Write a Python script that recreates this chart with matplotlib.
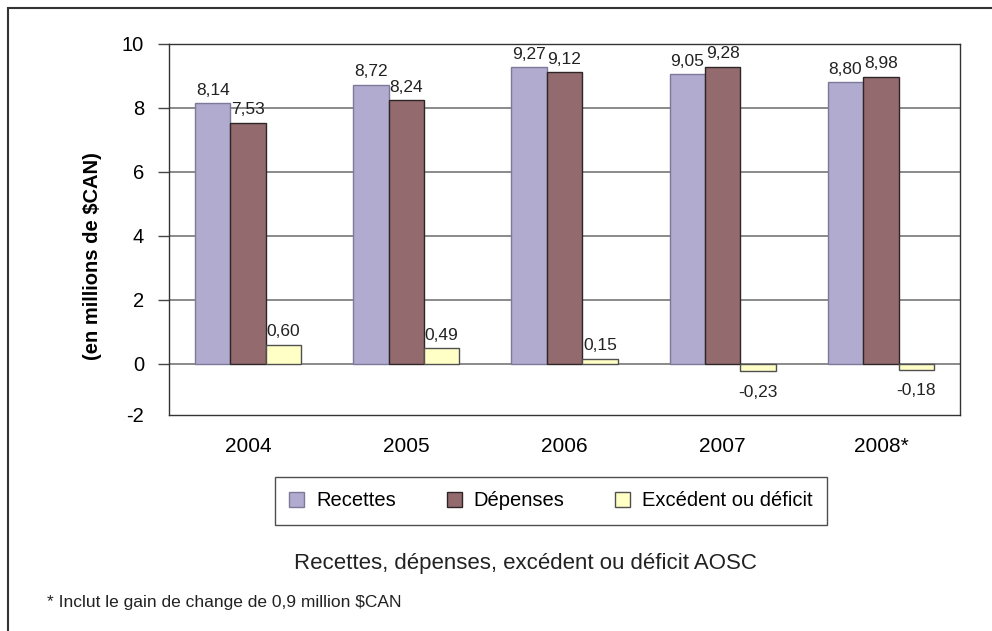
import matplotlib.pyplot as plt
import matplotlib.patches as mpatches
import numpy as np

plt.rcParams['font.family'] = ['Liberation Sans', 'DejaVu Sans']

# data (millions $CAN)
years = ['2004', '2005', '2006', '2007', '2008*']
recettes = [8.14, 8.72, 9.27, 9.05, 8.80]
depenses = [7.53, 8.24, 9.12, 9.28, 8.98]
excedent = [0.60, 0.49, 0.15, -0.23, -0.18]

series_names = ['Recettes', 'Dépenses', 'Excédent ou déficit']
fills = ['#b1abcf', '#936a6e', '#ffffc6']
edges = ['#7d7a99', '#2e2526', '#505050']

fig = plt.figure(figsize=(9.92, 6.31), dpi=100)
ax = fig.add_axes([169/992, 1 - 415/631, (960 - 169)/992, (415 - 44)/631])

x = np.arange(len(years))
w = 0.224
handles = []
for k, vals in enumerate([recettes, depenses, excedent]):
    bars = ax.bar(x + (k - 1)*w, vals, width=w, color=fills[k],
                  edgecolor=edges[k], linewidth=1.0, zorder=3,
                  label=series_names[k])
    handles.append(bars)
    for b, v in zip(bars, vals):
        txt = ('%.2f' % v).replace('.', ',')
        cx = b.get_x() + b.get_width()/2
        if v >= 0:
            ax.annotate(txt, (cx, v), xytext=(0, 4), textcoords='offset points',
                        ha='center', va='bottom', fontsize=12.5, color='#222')
        else:
            ax.annotate(txt, (cx, v), xytext=(0, -10), textcoords='offset points',
                        ha='center', va='top', fontsize=12.5, color='#222')

ax.set_xlim(-0.5, len(years) - 0.5)
ax.set_ylim(-1.6, 10)

# horizontal gridlines
for g in range(0, 11, 2):
    ax.axhline(g, color='#8a8a8a', linewidth=1.4, zorder=1)

ax.set_yticks([-1.6, 0, 2, 4, 6, 8, 10])
ax.set_yticklabels(['-2', '0', '2', '4', '6', '8', '10'])
ax.tick_params(axis='y', length=8, width=1, direction='out', pad=10,
               labelsize=14.5, color='#444')
ax.yaxis.get_major_ticks()[0].tick1line.set_visible(False)
ax.set_xticks(x)
ax.set_xticklabels(years)
ax.tick_params(axis='x', length=0, pad=16, labelsize=15)

for s in ax.spines.values():
    s.set_color('#333333')
    s.set_linewidth(1.0)

fig.text(92/992, 1 - 256/631, '(en millions de $CAN)', rotation=90,
         ha='center', va='center', fontsize=14.5, fontweight='bold')

leg = fig.legend(handles=handles, labels=series_names, loc='center',
                 bbox_to_anchor=(551/992, 1 - 501/631), ncol=3,
                 frameon=True, fancybox=False, edgecolor='#222',
                 fontsize=14.5, handlelength=0.75, handleheight=0.75,
                 handletextpad=0.6, columnspacing=2.5, borderpad=0.7)
leg.get_frame().set_linewidth(1.0)

fig.text(525/992, 1 - 563/631, 'Recettes, dépenses, excédent ou déficit AOSC',
         ha='center', va='center', fontsize=16, color='#222')
fig.text(47/992, 1 - 603/631, '* Inclut le gain de change de 0,9 million $CAN',
         ha='left', va='center', fontsize=12.5, color='#222')

# outer border
frame = mpatches.Rectangle((8/992, -0.1), 1.2, 1 - 8/631 + 0.1, fill=False,
                           edgecolor='#333333', linewidth=1.5,
                           transform=fig.transFigure, clip_on=False)
fig.patches.append(frame)

fig.savefig('out.png', dpi=100)
